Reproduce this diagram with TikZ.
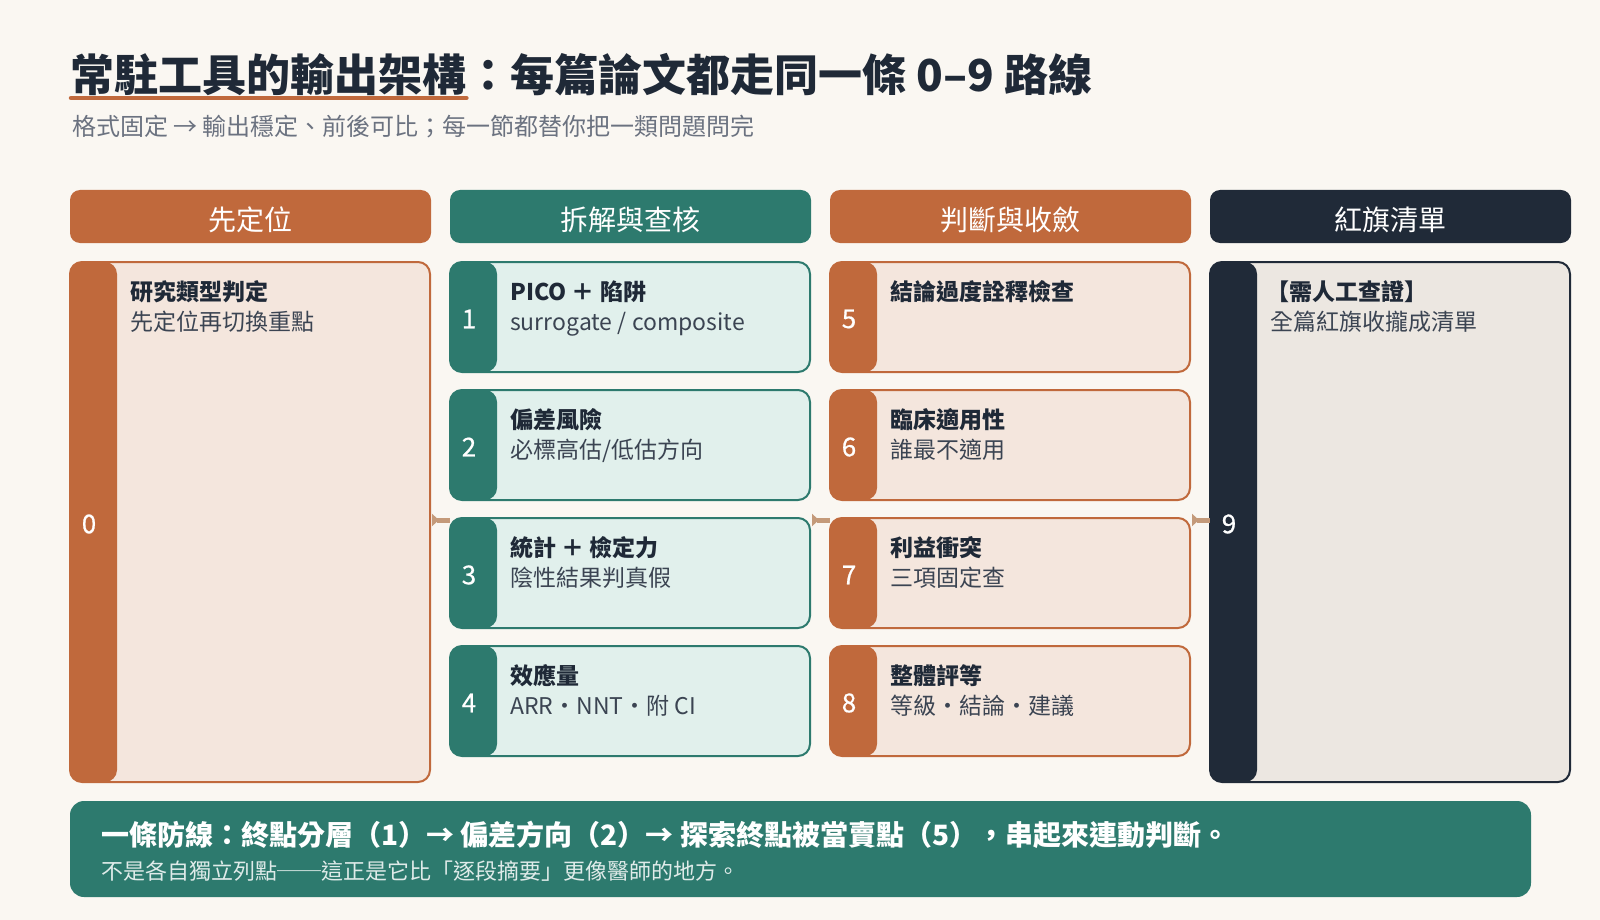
\documentclass[tikz,border=0pt]{standalone}
\usepackage{fontspec}
\setmainfont{Noto Sans CJK TC}
\usetikzlibrary{calc,arrows.meta}
\definecolor{bg}{HTML}{FAF7F2}
\definecolor{orng}{HTML}{C0693C}
\definecolor{orngl}{HTML}{F4E6DD}
\definecolor{teal}{HTML}{2D7A6E}
\definecolor{teall}{HTML}{E1F0EC}
\definecolor{navy}{HTML}{202A38}
\definecolor{navyl}{HTML}{ECE7E1}
\definecolor{ink}{HTML}{1F2937}
\definecolor{inksoft}{HTML}{3B4452}
\definecolor{graytxt}{HTML}{6B7280}
\definecolor{tan}{HTML}{C49A7A}
\tikzset{
  hdr/.style={fill=#1, rounded corners=10pt, minimum width=361pt, minimum height=53pt,
    inner sep=0pt, outer sep=0pt, anchor=north west, text=white,
    text height=31.6pt, text depth=3.4pt, font=\fontsize{28pt}{32pt}\selectfont},
  card/.style n args={3}{draw=#1, fill=#2, line width=2pt, rounded corners=12pt,
    minimum width=360pt, minimum height=#3, inner sep=0pt, outer sep=0pt, anchor=north west,
    path picture={\fill[#1] (path picture bounding box.north west) rectangle ([xshift=47pt]path picture bounding box.south west);}},
  boxnum/.style={anchor=center, inner sep=0pt, text=white, font=\fontsize{26pt}{30pt}\selectfont\addfontfeature{FakeBold=0.6}},
  boxtitle/.style={anchor=base west, inner sep=0pt, text=ink, font=\fontsize{23pt}{27pt}\selectfont\bfseries},
  boxsub/.style={anchor=base west, inner sep=0pt, text=inksoft, font=\fontsize{23pt}{27pt}\selectfont},
  flow/.style={draw=tan, line width=5pt, {Triangle[reversed,length=7pt,width=12pt]}-},
}
\begin{document}
\begin{tikzpicture}[x=1pt,y=-1pt]
\fill[bg] (0,0) rectangle (1600,920);
\useasboundingbox (0,0) rectangle (1600,920);
% title
\node[anchor=base west, inner sep=0pt, text=ink, font=\fontsize{44pt}{50pt}\selectfont\bfseries] (t1) at (70,92) {常駐工具的輸出架構};
\node[anchor=base west, inner sep=0pt, text=ink, font=\fontsize{44pt}{50pt}\selectfont\bfseries] (t2) at (t1.base east) {：每篇論文都走同一條 0–9 路線};
\draw[orng, line width=4.5pt, line cap=round] ($(t1.base west)+(1,6)$) -- ($(t1.base east)+(0,6)$);
\node[anchor=base west, inner sep=0pt, text=graytxt, font=\fontsize{24pt}{28pt}\selectfont] (st) at (72,136) {格式固定 → 輸出穩定、前後可比；每一節都替你把一類問題問完};
% headers
\node[hdr=orng] (h0) at (70,190) {先定位};
\node[hdr=teal] (h1) at (450,190) {拆解與查核};
\node[hdr=orng] (h2) at (830,190) {判斷與收斂};
\node[hdr=navy] (h3) at (1210,190) {紅旗清單};
% column 0
\node[card={orng}{orngl}{520pt}] (c0) at (70,262) {};
\node[boxnum] at ($(c0.west)+(19,2)$) {0};
\node[boxtitle] at ($(c0.north west)+(60,38)$) {研究類型判定};
\node[boxsub] at ($(c0.north west)+(60,68)$) {先定位再切換重點};
% column 1
\node[card={teal}{teall}{110pt}] (b1) at (450,262) {};
\node[boxnum] at ($(b1.west)+(19,2)$) {1};
\node[boxtitle] at ($(b1.north west)+(60,38)$) {PICO ＋ 陷阱};
\node[boxsub] at ($(b1.north west)+(60,68)$) {surrogate / composite};
\node[card={teal}{teall}{110pt}] (b2) at (450,390) {};
\node[boxnum] at ($(b2.west)+(19,2)$) {2};
\node[boxtitle] at ($(b2.north west)+(60,38)$) {偏差風險};
\node[boxsub] at ($(b2.north west)+(60,68)$) {必標高估/低估方向};
\node[card={teal}{teall}{110pt}] (b3) at (450,518) {};
\node[boxnum] at ($(b3.west)+(19,2)$) {3};
\node[boxtitle] at ($(b3.north west)+(60,38)$) {統計 ＋ 檢定力};
\node[boxsub] at ($(b3.north west)+(60,68)$) {陰性結果判真假};
\node[card={teal}{teall}{110pt}] (b4) at (450,646) {};
\node[boxnum] at ($(b4.west)+(19,2)$) {4};
\node[boxtitle] at ($(b4.north west)+(60,38)$) {效應量};
\node[boxsub] at ($(b4.north west)+(60,68)$) {ARR・NNT・附 CI};
% column 2
\node[card={orng}{orngl}{110pt}] (b5) at (830,262) {};
\node[boxnum] at ($(b5.west)+(19,2)$) {5};
\node[boxtitle] at ($(b5.north west)+(60,38)$) {結論過度詮釋檢查};
\node[card={orng}{orngl}{110pt}] (b6) at (830,390) {};
\node[boxnum] at ($(b6.west)+(19,2)$) {6};
\node[boxtitle] at ($(b6.north west)+(60,38)$) {臨床適用性};
\node[boxsub] at ($(b6.north west)+(60,68)$) {誰最不適用};
\node[card={orng}{orngl}{110pt}] (b7) at (830,518) {};
\node[boxnum] at ($(b7.west)+(19,2)$) {7};
\node[boxtitle] at ($(b7.north west)+(60,38)$) {利益衝突};
\node[boxsub] at ($(b7.north west)+(60,68)$) {三項固定查};
\node[card={orng}{orngl}{110pt}] (b8) at (830,646) {};
\node[boxnum] at ($(b8.west)+(19,2)$) {8};
\node[boxtitle] at ($(b8.north west)+(60,38)$) {整體評等};
\node[boxsub] at ($(b8.north west)+(60,68)$) {等級・結論・建議};
% column 3
\node[card={navy}{navyl}{520pt}] (c9) at (1210,262) {};
\node[boxnum] at ($(c9.west)+(19,2)$) {9};
\node[boxtitle] at ($(c9.north west)+(56,38)$) {【需人工查證】};
\node[boxsub] at ($(c9.north west)+(60,68)$) {全篇紅旗收攏成清單};
% arrows
\coordinate (a0) at ($(c0.east)+(2,-2)$);
\draw[flow] (a0) -- (a0 -| b3.west);
\coordinate (a1) at ($(b3.east |- c0.east)+(2,-2)$);
\draw[flow] (a1) -- (a1 -| b7.west);
\coordinate (a2) at ($(b7.east |- c0.east)+(2,-2)$);
\draw[flow] (a2) -- (a2 -| c9.west);
% banner
\node[fill=teal, rounded corners=14pt, minimum width=1461pt, minimum height=96pt, inner sep=0pt, outer sep=0pt, anchor=north west] (bn) at (70,801) {};
\node[anchor=base west, inner sep=0pt, text=white, font=\fontsize{28pt}{32pt}\selectfont\bfseries] (bl1) at ($(bn.north west)+(31,44)$) {一條防線：終點分層（1）→ 偏差方向（2）→ 探索終點被當賣點（5），串起來連動判斷。};
\node[anchor=base west, inner sep=0pt, text=white, text opacity=0.85, font=\fontsize{22pt}{26pt}\selectfont] (bl2) at ($(bn.north west)+(31,78)$) {不是各自獨立列點──這正是它比「逐段摘要」更像醫師的地方。};
\end{tikzpicture}
\end{document}
